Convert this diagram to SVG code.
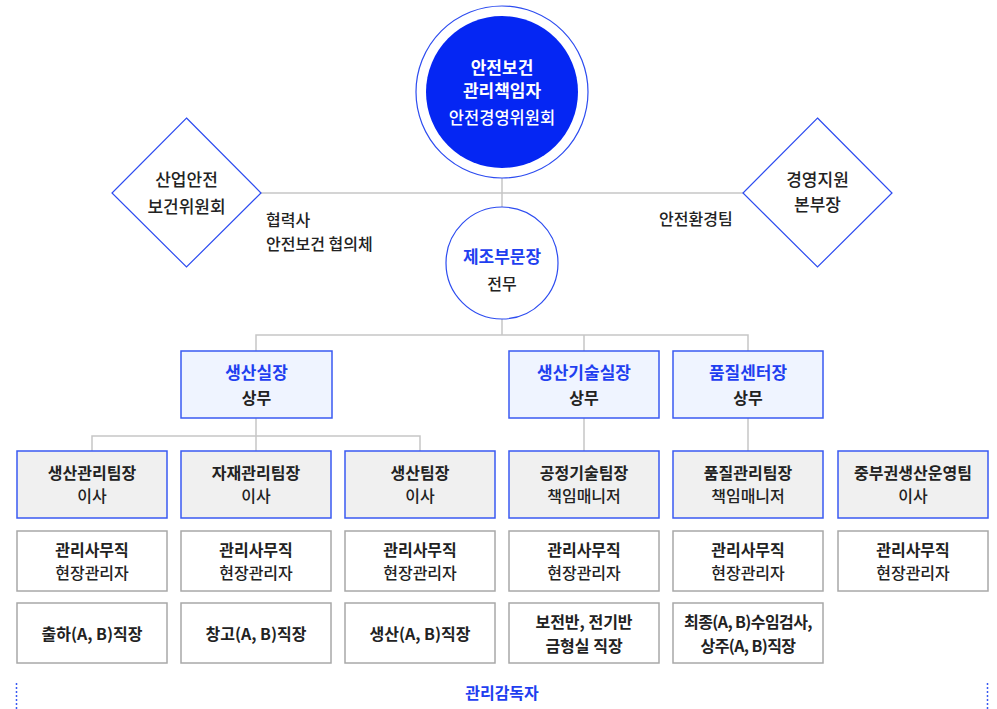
<svg xmlns="http://www.w3.org/2000/svg" width="997" height="709" viewBox="0 0 997 709">
<style>
text{font-family:"Noto Sans CJK KR","Noto Sans",sans-serif;text-anchor:middle;fill:#222;font-weight:500}
.b{font-weight:700}
.t17{font-size:17px}
.t16{font-size:16px}
.blue{fill:#1f3ff0}
.w{fill:#fff}
.l2{fill:#eff4ff;stroke:#3a5af2;stroke-width:1.5}
.l3{fill:#f0f0f0;stroke:#3a5af2;stroke-width:1.5}
.l4{fill:#fff;stroke:#a8a8a8;stroke-width:1.5}
.conn line,.conn polyline{stroke:#c6c6c6;stroke-width:1.5;fill:none}
</style>
<rect width="997" height="709" fill="#fff"/>
<g class="conn" id="connectors">
<line x1="261" y1="193" x2="743" y2="193"/>
<line x1="502" y1="178" x2="502" y2="207"/>
<line x1="502" y1="319" x2="502" y2="335"/>
<polyline points="256,351 256,335 748,335 748,351"/>
<line x1="584" y1="335" x2="584" y2="351"/>
<line x1="256" y1="418" x2="256" y2="436"/>
<polyline points="92,451 92,436 420,436 420,451"/>
<line x1="256" y1="436" x2="256" y2="451"/>
<line x1="584" y1="418" x2="584" y2="451"/>
<line x1="748" y1="418" x2="748" y2="451"/>
</g>
<g id="top">
<circle cx="502" cy="92" r="86" fill="#fff" stroke="#2d4cf0" stroke-width="1.2"/>
<circle cx="502" cy="92" r="76" fill="#0526f3"/>
<text x="502" y="73.5" class="b t17 w">안전보건</text>
<text x="502" y="96.5" class="b t17 w">관리책임자</text>
<text x="502" y="124" class="w" style="font-size:16.5px">안전경영위원회</text>
</g>
<g id="mid">
<circle cx="502" cy="263" r="56" fill="#fff" stroke="#2d4cf0" stroke-width="1.2"/>
<text x="502" y="262.5" class="b t17 blue">제조부문장</text>
<text x="502" y="290" class="t16">전무</text>
</g>
<g id="diamond-left">
<polygon points="186.5,118 261,193 186.5,267 112,193" fill="#fff" stroke="#2d4cf0" stroke-width="1.2"/>
<text x="186.5" y="185.5" class="t17">산업안전</text>
<text x="186.5" y="213" class="t17">보건위원회</text>
</g>
<g id="label-left">
<text x="266" y="226" class="t16" style="text-anchor:start">협력사</text>
<text x="266" y="249.5" class="t16" style="text-anchor:start">안전보건 협의체</text>
</g>
<g id="diamond-right">
<polygon points="817.5,118 892,193 817.5,267 743,193" fill="#fff" stroke="#2d4cf0" stroke-width="1.2"/>
<text x="817.5" y="185.5" class="t17">경영지원</text>
<text x="817.5" y="210.5" class="t17">본부장</text>
</g>
<g id="label-right">
<text x="659" y="224.5" class="t16" style="text-anchor:start">안전환경팀</text>
</g>
<g id="n-prod">
<rect x="181" y="351" width="151" height="67" class="l2"/>
<text x="256.5" y="379" class="b t17 blue">생산실장</text>
<text x="256.5" y="404" class="b t16">상무</text>
</g>
<g id="n-tech">
<rect x="509" y="351" width="150" height="67" class="l2"/>
<text x="584" y="379" class="b t17 blue">생산기술실장</text>
<text x="584" y="404" class="b t16">상무</text>
</g>
<g id="n-qual">
<rect x="673" y="351" width="150" height="67" class="l2"/>
<text x="748" y="379" class="b t17 blue">품질센터장</text>
<text x="748" y="404" class="b t16">상무</text>
</g>
<g id="t1"><rect x="17" y="451" width="150" height="67" class="l3"/><text x="92" y="479" class="b t16">생산관리팀장</text><text x="92" y="501.5" class="t16">이사</text></g>
<g id="t2"><rect x="181" y="451" width="150" height="67" class="l3"/><text x="256" y="479" class="b t16">자재관리팀장</text><text x="256" y="501.5" class="t16">이사</text></g>
<g id="t3"><rect x="345" y="451" width="150" height="67" class="l3"/><text x="420" y="479" class="b t16">생산팀장</text><text x="420" y="501.5" class="t16">이사</text></g>
<g id="t4"><rect x="509" y="451" width="150" height="67" class="l3"/><text x="584" y="479" class="b t16">공정기술팀장</text><text x="584" y="501.5" class="t16">책임매니저</text></g>
<g id="t5"><rect x="673" y="451" width="150" height="67" class="l3"/><text x="748" y="479" class="b t16">품질관리팀장</text><text x="748" y="501.5" class="t16">책임매니저</text></g>
<g id="t6"><rect x="838" y="451" width="150" height="67" class="l3"/><text x="913" y="479" class="b t16">중부권생산운영팀</text><text x="913" y="501.5" class="t16">이사</text></g>
<g id="m1"><rect x="17" y="531" width="150" height="60" class="l4"/><text x="92" y="555.5" class="b t16">관리사무직</text><text x="92" y="578.5" class="t16">현장관리자</text></g>
<g id="m2"><rect x="181" y="531" width="150" height="60" class="l4"/><text x="256" y="555.5" class="b t16">관리사무직</text><text x="256" y="578.5" class="t16">현장관리자</text></g>
<g id="m3"><rect x="345" y="531" width="150" height="60" class="l4"/><text x="420" y="555.5" class="b t16">관리사무직</text><text x="420" y="578.5" class="t16">현장관리자</text></g>
<g id="m4"><rect x="509" y="531" width="150" height="60" class="l4"/><text x="584" y="555.5" class="b t16">관리사무직</text><text x="584" y="578.5" class="t16">현장관리자</text></g>
<g id="m5"><rect x="673" y="531" width="150" height="60" class="l4"/><text x="748" y="555.5" class="b t16">관리사무직</text><text x="748" y="578.5" class="t16">현장관리자</text></g>
<g id="m6"><rect x="838" y="531" width="150" height="60" class="l4"/><text x="913" y="555.5" class="b t16">관리사무직</text><text x="913" y="578.5" class="t16">현장관리자</text></g>
<g id="w1"><rect x="17" y="603" width="150" height="60" class="l4"/><text x="92" y="639.5" class="b t16">출하(A, B)직장</text></g>
<g id="w2"><rect x="181" y="603" width="150" height="60" class="l4"/><text x="256" y="639.5" class="b t16">창고(A, B)직장</text></g>
<g id="w3"><rect x="345" y="603" width="150" height="60" class="l4"/><text x="420" y="639.5" class="b t16">생산(A, B)직장</text></g>
<g id="w4"><rect x="509" y="603" width="150" height="60" class="l4"/><text x="584" y="627.5" class="b t16">보전반, 전기반</text><text x="584" y="652" class="b t16">금형실 직장</text></g>
<g id="w5"><rect x="673" y="603" width="150" height="60" class="l4"/><text x="748" y="627.5" class="b t16" letter-spacing="-0.6">최종(A, B)수임검사,</text><text x="748" y="652" class="b t16" letter-spacing="-0.6">상주(A, B)직장</text></g>
<g id="supervisor">
<line x1="16.5" y1="683" x2="16.5" y2="709" stroke="#3a5af2" stroke-width="1.5" stroke-dasharray="2 2"/>
<line x1="987.5" y1="683" x2="987.5" y2="709" stroke="#3a5af2" stroke-width="1.5" stroke-dasharray="2 2"/>
<text x="502" y="699" class="b t16 blue">관리감독자</text>
</g>
</svg>
